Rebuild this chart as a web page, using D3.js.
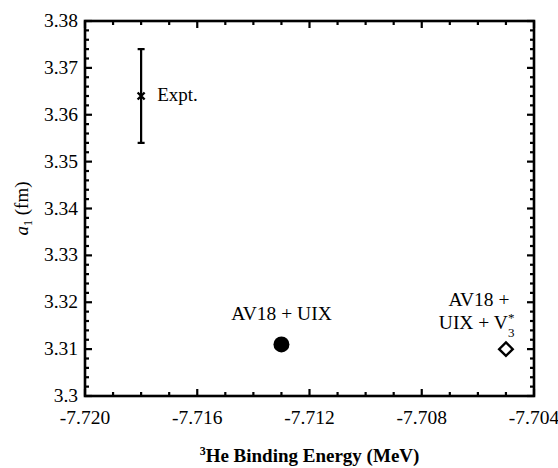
<!DOCTYPE html>
<html>
<head>
<meta charset="utf-8">
<script src="https://cdn.jsdelivr.net/npm/d3@7"></script>
</head>
<body style="margin:0;background:#fff">
<svg id="chart" width="558" height="468"></svg>
<script>
// ---- data ----
const seriesNames = ["Expt.", "AV18 + UIX", "AV18 + UIX + V3*"];
const energies = [-7.718, -7.713, -7.705];
const a1Values = [3.364, 3.311, 3.310];
const a1Errors = [0.010, 0, 0];
const markers = ["cross", "circle", "diamond"];
const xTickValues = [-7.720, -7.716, -7.712, -7.708, -7.704];
const xTickLabels = ["-7.720", "-7.716", "-7.712", "-7.708", "-7.704"];
const yTickValues = [3.30, 3.31, 3.32, 3.33, 3.34, 3.35, 3.36, 3.37, 3.38];
const yTickLabels = ["3.3", "3.31", "3.32", "3.33", "3.34", "3.35", "3.36", "3.37", "3.38"];
const xDomain = [-7.720, -7.704];
const yDomain = [3.30, 3.38];

// ---- layout ----
const FONT = '"Liberation Serif", "Times New Roman", Times, serif';
const svg = d3.select("#chart");
const L = 85, R = 534, T = 21, B = 396;
const x = d3.scaleLinear().domain(xDomain).range([L, R]);
const y = d3.scaleLinear().domain(yDomain).range([B, T]);

const majorLen = 7, minorLen = 4;
const g = svg.append("g");
function txt(parent) { return parent.append("text").style("font-family", FONT).attr("fill", "#000"); }

// minor ticks
const xMinor = d3.range(0, 17).map(i => xDomain[0] + i * 0.001).filter(v => !xTickValues.some(t => Math.abs(t - v) < 1e-7));
const yMinor = d3.range(0, 41).map(i => yDomain[0] + i * 0.002).filter(v => !yTickValues.some(t => Math.abs(t - v) < 1e-7));

const tickG = g.append("g").attr("stroke", "#000").attr("stroke-width", 2.2);
function hTicks(vals, len) {
  vals.forEach(v => {
    tickG.append("line").attr("x1", x(v)).attr("x2", x(v)).attr("y1", B).attr("y2", B - len);
    tickG.append("line").attr("x1", x(v)).attr("x2", x(v)).attr("y1", T).attr("y2", T + len);
  });
}
function vTicks(vals, len) {
  vals.forEach(v => {
    tickG.append("line").attr("y1", y(v)).attr("y2", y(v)).attr("x1", L).attr("x2", L + len);
    tickG.append("line").attr("y1", y(v)).attr("y2", y(v)).attr("x1", R).attr("x2", R - len);
  });
}
hTicks(xMinor, minorLen);
hTicks(xTickValues, majorLen);
vTicks(yMinor, minorLen);
vTicks(yTickValues, majorLen);

// frame
g.append("rect").attr("x", L).attr("y", T).attr("width", R - L).attr("height", B - T)
  .attr("fill", "none").attr("stroke", "#000").attr("stroke-width", 2.6);

// tick labels
xTickValues.forEach((d, i) => {
  txt(g).attr("x", x(d)).attr("y", B + 28).attr("text-anchor", "middle")
    .attr("font-size", 19.5).text(xTickLabels[i]);
});
yTickValues.forEach((d, i) => {
  txt(g).attr("x", L - 7).attr("y", d => y(d) + 6).attr("y", y(d) + 6).attr("text-anchor", "end")
    .attr("font-size", 19.5).text(yTickLabels[i]);
});

// axis titles
const xt = txt(g).attr("x", (L + R) / 2).attr("y", 462).attr("text-anchor", "middle")
  .attr("font-size", 19).attr("font-weight", "bold");
xt.append("tspan").attr("font-size", 12).attr("dy", -7).text("3");
xt.append("tspan").attr("dy", 7).text("He Binding Energy (MeV)");

const yt = txt(g).attr("transform", `translate(28,${(T + B) / 2}) rotate(-90)`)
  .attr("text-anchor", "middle").attr("font-size", 19);
yt.append("tspan").attr("font-style", "italic").text("a");
yt.append("tspan").attr("font-size", 12).attr("dy", 4).text("1");
yt.append("tspan").attr("dy", -4).text(" (fm)");

// data marks
const marks = g.append("g");
energies.forEach((e, i) => {
  const cx = x(e), cy = y(a1Values[i]);
  if (a1Errors[i] > 0) {
    const y1 = y(a1Values[i] + a1Errors[i]), y2 = y(a1Values[i] - a1Errors[i]);
    marks.append("line").attr("x1", cx).attr("x2", cx).attr("y1", y1).attr("y2", y2)
      .attr("stroke", "#000").attr("stroke-width", 2.2);
    [y1, y2].forEach(yy => marks.append("line").attr("x1", cx - 3.5).attr("x2", cx + 3.5)
      .attr("y1", yy).attr("y2", yy).attr("stroke", "#000").attr("stroke-width", 2.2));
  }
  if (markers[i] === "cross") {
    const s = 3.5;
    marks.append("path").attr("d", `M${cx - s},${cy - s}L${cx + s},${cy + s}M${cx - s},${cy + s}L${cx + s},${cy - s}`)
      .attr("stroke", "#000").attr("stroke-width", 2.4);
  } else if (markers[i] === "circle") {
    marks.append("circle").attr("cx", cx).attr("cy", cy).attr("r", 8).attr("fill", "#000");
  } else if (markers[i] === "diamond") {
    const s = 6.8;
    marks.append("path").attr("d", `M${cx},${cy - s}L${cx + s},${cy}L${cx},${cy + s}L${cx - s},${cy}Z`)
      .attr("fill", "#fff").attr("stroke", "#000").attr("stroke-width", 2.4);
  }
});

// annotations
txt(g).attr("x", x(energies[0]) + 16).attr("y", y(a1Values[0]) + 5)
  .attr("font-size", 19).text(seriesNames[0]);
txt(g).attr("x", x(energies[1])).attr("y", y(a1Values[1]) - 24)
  .attr("text-anchor", "middle").attr("font-size", 19.5).text(seriesNames[1]);
const ax = x(energies[2]) - 27, ay = y(a1Values[2]);
txt(g).attr("x", ax).attr("y", ay - 43).attr("text-anchor", "middle")
  .attr("font-size", 19.5).text("AV18 +");
txt(g).attr("x", ax + 29).attr("y", ay - 20).attr("text-anchor", "end")
  .attr("font-size", 19.5).text("UIX + V");
txt(g).attr("x", ax + 29).attr("y", ay - 27).attr("font-size", 13).text("*");
txt(g).attr("x", ax + 29).attr("y", ay - 12).attr("font-size", 13).text("3");
</script>
</body>
</html>
